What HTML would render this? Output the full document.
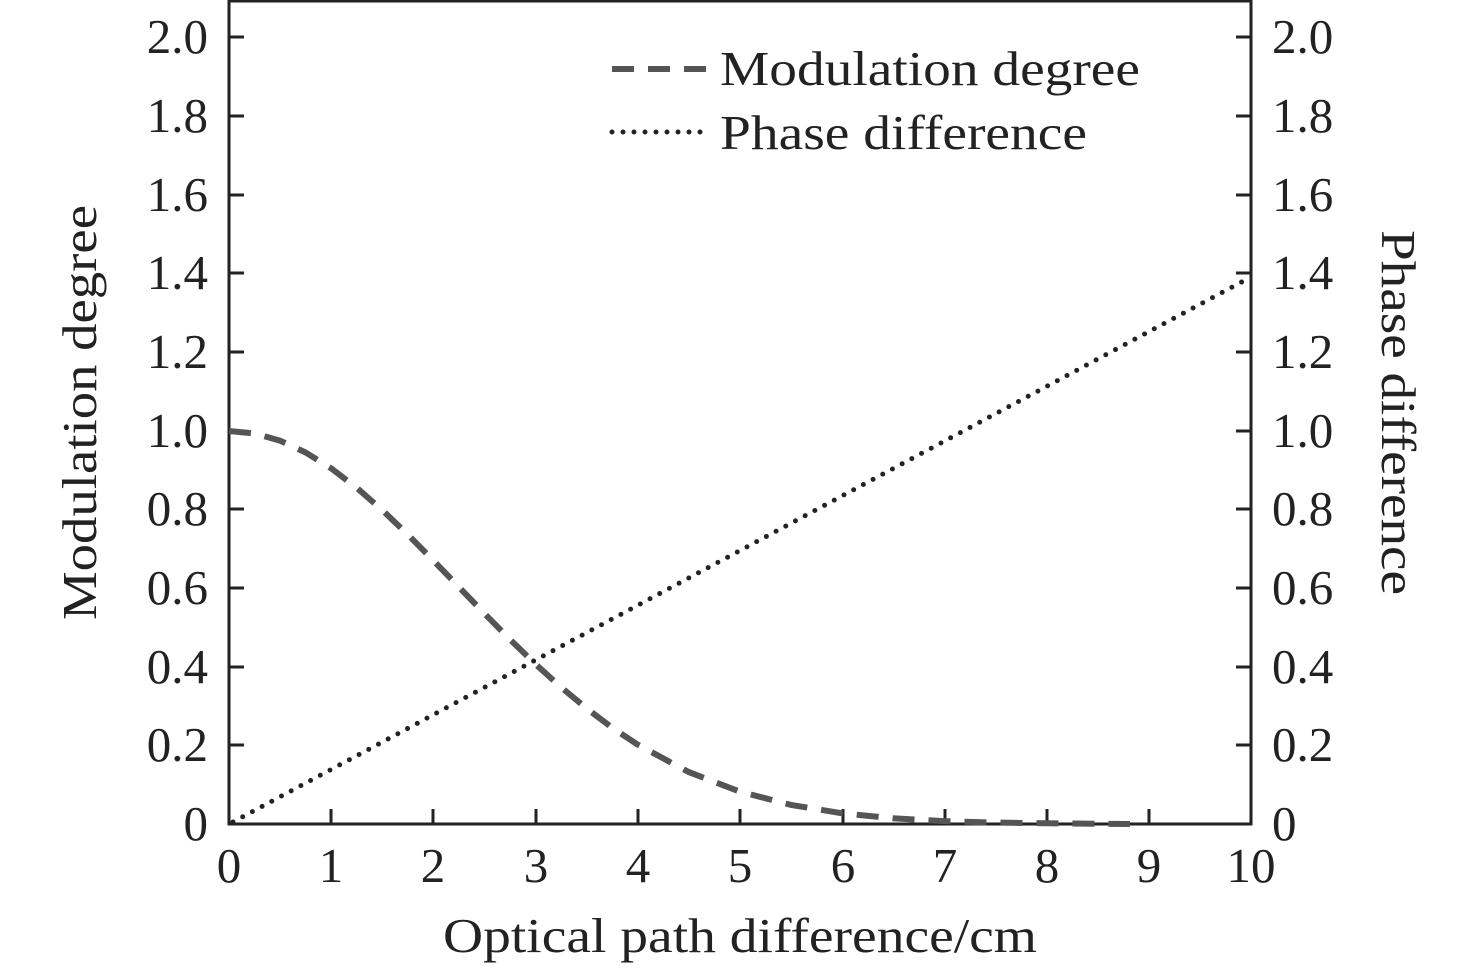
<!DOCTYPE html>
<html><head><style>body{margin:0;background:#fff}</style></head><body>
<svg width="1476" height="968" xmlns="http://www.w3.org/2000/svg" font-family="Liberation Serif, serif" font-size="49" fill="#222">
<rect x="229" y="1" width="1022" height="823" fill="none" stroke="#222" stroke-width="3"/>
<g stroke="#222" stroke-width="3">
<line x1="331" y1="824" x2="331" y2="809"/><line x1="433" y1="824" x2="433" y2="809"/><line x1="536" y1="824" x2="536" y2="809"/><line x1="638" y1="824" x2="638" y2="809"/><line x1="740" y1="824" x2="740" y2="809"/><line x1="843" y1="824" x2="843" y2="809"/><line x1="945" y1="824" x2="945" y2="809"/><line x1="1047" y1="824" x2="1047" y2="809"/><line x1="1149" y1="824" x2="1149" y2="809"/>
<line x1="229" y1="745" x2="244" y2="745"/><line x1="229" y1="667" x2="244" y2="667"/><line x1="229" y1="588" x2="244" y2="588"/><line x1="229" y1="509" x2="244" y2="509"/><line x1="229" y1="431" x2="244" y2="431"/><line x1="229" y1="352" x2="244" y2="352"/><line x1="229" y1="273" x2="244" y2="273"/><line x1="229" y1="195" x2="244" y2="195"/><line x1="229" y1="116" x2="244" y2="116"/><line x1="229" y1="37" x2="244" y2="37"/>
<line x1="1251" y1="745" x2="1236" y2="745"/><line x1="1251" y1="667" x2="1236" y2="667"/><line x1="1251" y1="588" x2="1236" y2="588"/><line x1="1251" y1="509" x2="1236" y2="509"/><line x1="1251" y1="431" x2="1236" y2="431"/><line x1="1251" y1="352" x2="1236" y2="352"/><line x1="1251" y1="273" x2="1236" y2="273"/><line x1="1251" y1="195" x2="1236" y2="195"/><line x1="1251" y1="116" x2="1236" y2="116"/><line x1="1251" y1="37" x2="1236" y2="37"/>
</g>
<g text-anchor="end">
<text x="208" y="840">0</text><text x="208" y="761">0.2</text><text x="208" y="683">0.4</text><text x="208" y="604">0.6</text><text x="208" y="525">0.8</text><text x="208" y="447">1.0</text><text x="208" y="368">1.2</text><text x="208" y="289">1.4</text><text x="208" y="211">1.6</text><text x="208" y="132">1.8</text><text x="208" y="53">2.0</text>
</g>
<g>
<text x="1272" y="840">0</text><text x="1272" y="761">0.2</text><text x="1272" y="683">0.4</text><text x="1272" y="604">0.6</text><text x="1272" y="525">0.8</text><text x="1272" y="447">1.0</text><text x="1272" y="368">1.2</text><text x="1272" y="289">1.4</text><text x="1272" y="211">1.6</text><text x="1272" y="132">1.8</text><text x="1272" y="53">2.0</text>
</g>
<g text-anchor="middle">
<text x="229" y="882">0</text><text x="331" y="882">1</text><text x="433" y="882">2</text><text x="536" y="882">3</text><text x="638" y="882">4</text><text x="740" y="882">5</text><text x="843" y="882">6</text><text x="945" y="882">7</text><text x="1047" y="882">8</text><text x="1149" y="882">9</text><text x="1251" y="882">10</text>
</g>
<text x="443" y="952" textLength="594" lengthAdjust="spacingAndGlyphs">Optical path difference/cm</text>
<text transform="translate(96,620) rotate(-90)" textLength="415" lengthAdjust="spacingAndGlyphs">Modulation degree</text>
<text transform="translate(1382,230) rotate(90)" textLength="365" lengthAdjust="spacingAndGlyphs">Phase difference</text>
<polyline fill="none" stroke="#555" stroke-width="6" stroke-dasharray="22,14" points="229,431 254.6,433.5 280.1,440.7 305.7,452.5 331.2,468.4 356.8,487.9 382.3,510.2 407.9,534.6 433.4,560.6 459,587.1 484.5,613.6 510,639.5 535.6,664.2 561.2,687.4 586.7,708.5 612.3,727.8 637.8,744.7 688.9,772.1 740,791.7 791,804.9 842,813.3 893,818.3 944.4,821.1 995.5,822.6 1046.6,823.3 1130,824"/>
<line x1="233" y1="822" x2="1251" y2="277" stroke="#222" stroke-width="5" stroke-linecap="round" stroke-dasharray="0,11"/>
<line x1="612" y1="69" x2="706" y2="69" stroke="#555" stroke-width="6" stroke-dasharray="22,14"/>
<line x1="612" y1="132" x2="706" y2="132" stroke="#222" stroke-width="5" stroke-linecap="round" stroke-dasharray="0,11"/>
<text x="720" y="85" textLength="420" lengthAdjust="spacingAndGlyphs">Modulation degree</text>
<text x="720" y="149" textLength="367" lengthAdjust="spacingAndGlyphs">Phase difference</text>
</svg>
</body></html>
